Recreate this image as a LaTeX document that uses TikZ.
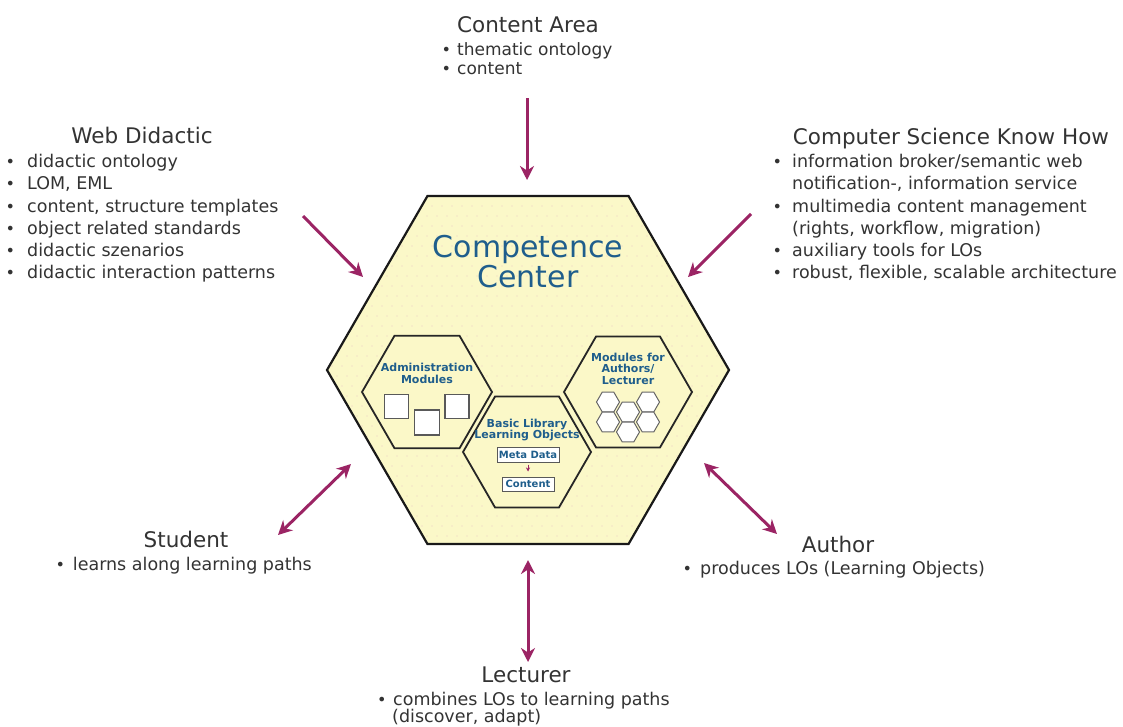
\documentclass[tikz,border=0pt]{standalone}
\usepackage{fontspec}
\setmainfont{DejaVu Sans}
\usetikzlibrary{arrows.meta}
\definecolor{txt}{HTML}{333333}
\definecolor{arr}{HTML}{9B2464}
\definecolor{hexfill}{HTML}{FBF8C8}
\definecolor{ccblue}{HTML}{1F5E8C}
\definecolor{dotc}{HTML}{EBCBC4}
\newcommand{\hexat}[3]{({#1+#3},{#2}) -- ({#1+0.5*#3},{#2-0.866*#3}) -- ({#1-0.5*#3},{#2-0.866*#3}) -- ({#1-#3},{#2}) -- ({#1-0.5*#3},{#2+0.866*#3}) -- ({#1+0.5*#3},{#2+0.866*#3}) -- cycle}
\newcommand{\bu}[1][18pt]{\makebox[#1][l]{\fontsize{16}{16}\selectfont •}}
\begin{document}
\begin{tikzpicture}[x=1pt,y=-1pt,
  head/.style={font=\fontsize{21.5}{24}\selectfont, text=txt, anchor=base, inner sep=0},
  item/.style={font=\fontsize{17.5}{20}\selectfont, text=txt, anchor=base west, inner sep=0},
  small/.style={font=\fontsize{11}{12}\selectfont\bfseries, text=ccblue, anchor=base, inner sep=0},
  arrw/.style={line width=3pt, draw=arr, -{Stealth[length=14pt,width=14pt]}},
  darrw/.style={line width=3pt, draw=arr, {Stealth[length=14pt,width=14pt]}-{Stealth[length=14pt,width=14pt]}},
  modhex/.style={fill=hexfill, draw=black!85, line width=1.8pt, line join=miter},
  sqbox/.style={draw=black!65, fill=white, line width=1.3pt, minimum size=24pt, inner sep=0},
  tinyhex/.style={draw=black!60, fill=white, line width=1pt},
  labbox/.style={draw=black!65, fill=white, line width=1pt, inner sep=0, font=\fontsize{10}{11}\selectfont\bfseries, text=ccblue}
]
\useasboundingbox[fill=white] (0,0) rectangle (1123,726);

% big hexagon
\fill[hexfill] \hexat{528}{370}{201};
\begin{scope}
  \clip \hexat{528}{370}{201};
  \foreach \i in {0,...,41} {
    \foreach \j in {0,...,35} {
      \fill[dotc] ({327+\i*10+mod(\j,2)*5},{196+\j*10}) circle (0.7);
    }
  }
\end{scope}
\draw[line width=2.2pt, draw=black!90, line join=miter] \hexat{528}{370}{201};

\node[font=\fontsize{30}{30}\selectfont, text=ccblue, anchor=base, inner sep=0] (cc1) at (528,257) {Competence};
\node[font=\fontsize{30}{30}\selectfont, text=ccblue, anchor=base, inner sep=0] (cc2) at (528,287) {Center};

% module hexagons
\draw[modhex] \hexat{427}{392}{65};
\draw[modhex] \hexat{527}{452}{64};
\draw[modhex] \hexat{628}{392}{64};

% administration
\node[small] (adm1) at (427,371) {Administration};
\node[small] (adm2) at (427,383) {Modules};
\node[sqbox] (sq1) at (396.5,406.5) {};
\node[sqbox, minimum size=25pt] (sq2) at (427,422.5) {};
\node[sqbox] (sq3) at (457,406.5) {};

% basic library
\node[small] (lib1) at (527,427) {Basic Library};
\node[small] (lib2) at (527,438.5) {Learning Objects};
\node[labbox, minimum width=62pt, minimum height=15pt] (meta) at (528,454.5) {Meta Data};
\node[labbox, minimum width=52pt, minimum height=14pt] (cont) at (528,484) {Content};
\draw[draw=arr, line width=0.8pt, -{Stealth[length=4pt,width=4pt]}, shorten <=2pt, shorten >=5pt] (meta) -- (cont);

% modules for authors
\node[small] (aut1) at (628,361) {Modules for};
\node[small] (aut2) at (628,372.5) {Authors/};
\node[small] (aut3) at (628,384) {Lecturer};
\draw[tinyhex] \hexat{608}{402}{11.5};
\draw[tinyhex] \hexat{648}{402}{11.5};
\draw[tinyhex] \hexat{608}{422}{11.5};
\draw[tinyhex] \hexat{648}{422}{11.5};
\draw[tinyhex] \hexat{628}{412}{11.5};
\draw[tinyhex] \hexat{628}{432}{11.5};

% Content Area
\node[head] (cah) at (528,32) {Content Area};
\node[item, font=\fontsize{17}{20}\selectfont] (ca1) at (441.3,55) {\bu[15.7pt]thematic ontology};
\node[item, font=\fontsize{17}{20}\selectfont] (ca2) at (441.3,74) {\bu[15.7pt]content};

% Web Didactic
\node[head] (wdh) at (142,143) {Web Didactic};
\node[item] (wd1) at (5.3,167.5) {\bu[21.7pt]didactic ontology};
\node[item] (wd2) at (5.3,189.8) {\bu[21.7pt]LOM, EML};
\node[item] (wd3) at (5.3,212) {\bu[21.7pt]content, structure templates};
\node[item] (wd4) at (5.3,234.3) {\bu[21.7pt]object related standards};
\node[item] (wd5) at (5.3,256.5) {\bu[21.7pt]didactic szenarios};
\node[item] (wd6) at (5.3,278.8) {\bu[21.7pt]didactic interaction patterns};

% Computer Science Know How
\node[head] (csh) at (951,144) {Computer Science Know How};
\node[item] (cs1) at (772.3,167.5) {\bu[19.7pt]information broker/semantic web};
\node[item] (cs2) at (792,189.8) {notification-, information service};
\node[item] (cs3) at (772.3,212) {\bu[19.7pt]multimedia content management};
\node[item] (cs4) at (792,234.3) {(rights, workflow, migration)};
\node[item] (cs5) at (772.3,256.5) {\bu[19.7pt]auxiliary tools for LOs};
\node[item] (cs6) at (772.3,278.8) {\bu[19.7pt]robust, flexible, scalable architecture};

% Student
\node[head] (sth) at (186,547) {Student};
\node[item] (st1) at (55.3,570) {\bu[17.4pt]learns along learning paths};

% Author
\node[head] (auh) at (838,552) {Author};
\node[item] (au1) at (682.3,574) {\bu[17.7pt]produces LOs (Learning Objects)};

% Lecturer
\node[head] (leh) at (526,682) {Lecturer};
\node[item] (le1) at (377,705) {\bu[16pt]combines LOs to learning paths};
\node[item] (le2) at (392,722) {(discover, adapt)};

% arrow end points
\coordinate (caA) at (527,98);   \coordinate (caB) at (527,180);
\coordinate (wdA) at (303,216);  \coordinate (wdB) at (363,277);
\coordinate (csA) at (751,214);  \coordinate (csB) at (688,277);
\coordinate (stA) at (278,535);  \coordinate (stB) at (351,464);
\coordinate (auA) at (777,534);  \coordinate (auB) at (704,463);
\coordinate (leA) at (528,662);  \coordinate (leB) at (528,560);

\draw[arrw] (caA) -- (caB);
\draw[arrw] (wdA) -- (wdB);
\draw[arrw] (csA) -- (csB);
\draw[darrw] (stA) -- (stB);
\draw[darrw] (auA) -- (auB);
\draw[darrw] (leA) -- (leB);
\end{tikzpicture}
\end{document}
